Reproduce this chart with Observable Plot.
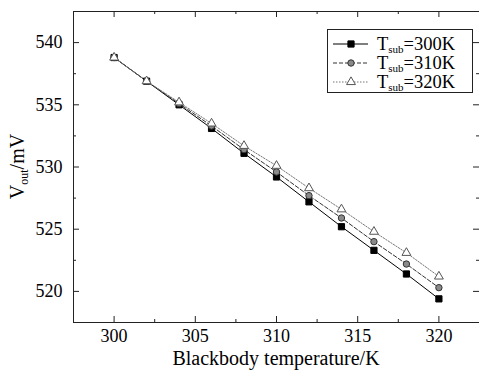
<!DOCTYPE html>
<html><head><meta charset="utf-8">
<script src="https://cdn.jsdelivr.net/npm/d3@7"></script>
<script src="https://cdn.jsdelivr.net/npm/@observablehq/plot@0.6"></script>
<style>
body{margin:0;background:#fff}
#wrap{position:relative;width:479px;height:372px}
</style>
</head><body><div id="wrap"></div>
<script>
const temps = [300, 302, 304, 306, 308, 310, 312, 314, 316, 318, 320];
const v300 = [538.8, 536.9, 535.0, 533.1, 531.1, 529.2, 527.2, 525.2, 523.3, 521.4, 519.4];
const v310 = [538.8, 536.9, 535.1, 533.3, 531.4, 529.6, 527.7, 525.9, 524.0, 522.2, 520.3];
const v320 = [538.8, 536.9, 535.2, 533.5, 531.7, 530.1, 528.3, 526.6, 524.8, 523.1, 521.2];
const seriesNames = ["300K", "310K", "320K"];
const xTicks = [300, 305, 310, 315, 320];
const xMinor = [302.5, 307.5, 312.5, 317.5];
const yTicks = [520, 525, 530, 535, 540];
const yMinor = [522.5, 527.5, 532.5, 537.5];
const xDomain = [297.5, 322.5];
const yDomain = [517.5, 542.5];

const styles = [
  {stroke: "#000", dash: null, symbol: "square", fill: "#000", dotStroke: "#000", r: 3.5},
  {stroke: "#333", dash: "4,2", symbol: "circle", fill: "#8a8a8a", dotStroke: "#333", r: 3.2},
  {stroke: "#777", dash: "1.5,1.5", symbol: "triangle", fill: "#fff", dotStroke: "#555", r: 3.3}
];
const values = [v300, v310, v320];
const rows = [];
values.forEach((vs, i) => vs.forEach((v, j) => rows.push({series: seriesNames[i], idx: i, t: temps[j], v})));

const W = 479, H = 372, mL = 73, mT = 11, mR = 0, mB = 50;
const pw = W - mL - mR, ph = H - mT - mB;
const font = "Liberation Serif, Times New Roman, serif";

const marks = [
  Plot.frame({stroke: "#222", strokeWidth: 1}),
  Plot.tickX(xTicks, {x: d => d, insetTop: ph - 6, stroke: "#222"}),
  Plot.tickX(xTicks, {x: d => d, insetBottom: ph - 6, stroke: "#222"}),
  Plot.tickX(xMinor, {x: d => d, insetTop: ph - 3, stroke: "#222"}),
  Plot.tickX(xMinor, {x: d => d, insetBottom: ph - 3, stroke: "#222"}),
  Plot.tickY(yTicks, {y: d => d, insetRight: pw - 6, stroke: "#222"}),
  Plot.tickY(yTicks, {y: d => d, insetLeft: pw - 6, stroke: "#222"}),
  Plot.tickY(yMinor, {y: d => d, insetRight: pw - 3, stroke: "#222"}),
  Plot.tickY(yMinor, {y: d => d, insetLeft: pw - 3, stroke: "#222"}),
  Plot.axisX({ticks: xTicks, tickSize: 0, tickPadding: 7, label: null, fontSize: 18}),
  Plot.axisY({ticks: yTicks, tickSize: 0, tickPadding: 11, label: null, fontSize: 18})
];
styles.forEach((s, i) => {
  const data = rows.filter(r => r.idx === i);
  marks.push(Plot.line(data, {x: "t", y: "v", stroke: s.stroke, strokeWidth: 1, strokeDasharray: s.dash}));
});
styles.forEach((s, i) => {
  const data = rows.filter(r => r.idx === i);
  marks.push(Plot.dot(data, {x: "t", y: "v", symbol: () => s.symbol, r: s.r, fill: s.fill, stroke: s.dotStroke, strokeWidth: 1}));
});

const plot = Plot.plot({
  width: W, height: H, marginLeft: mL, marginTop: mT, marginRight: mR, marginBottom: mB,
  style: {fontFamily: font, fontSize: "18px", color: "#000", background: "#fff"},
  x: {domain: xDomain}, y: {domain: yDomain},
  marks
});
document.getElementById("wrap").appendChild(plot);

const svg = d3.select(plot);
svg.append("text").attr("x", mL + pw / 2).attr("y", 365)
  .attr("text-anchor", "middle").attr("font-family", font).attr("font-size", 20).attr("fill", "#000")
  .text("Blackbody temperature/K");
const yl = svg.append("text").attr("transform", `translate(24,${mT + ph / 2}) rotate(-90)`)
  .attr("text-anchor", "middle").attr("font-family", font).attr("font-size", 20).attr("fill", "#000");
yl.append("tspan").text("V");
yl.append("tspan").attr("font-size", 12).attr("dy", 4).text("out");
yl.append("tspan").attr("dy", -4).text("/mV");

const lg = svg.append("g");
lg.append("rect").attr("x", 327.5).attr("y", 29.5).attr("width", 145).attr("height", 63)
  .attr("fill", "#fff").attr("stroke", "#222").attr("stroke-width", 1);
const symGen = {square: d3.symbolSquare, circle: d3.symbolCircle, triangle: d3.symbolTriangle};
styles.forEach((s, i) => {
  const cy = 44 + i * 19;
  lg.append("line").attr("x1", 333).attr("x2", 368).attr("y1", cy).attr("y2", cy)
    .attr("stroke", s.stroke).attr("stroke-dasharray", s.dash);
  const area = Math.PI * s.r * s.r;
  lg.append("path").attr("d", d3.symbol(symGen[s.symbol], area)())
    .attr("transform", `translate(351,${cy})`).attr("fill", s.fill).attr("stroke", s.dotStroke);
  const t = lg.append("text").attr("x", 377).attr("y", cy + 6).attr("text-anchor", "start")
    .attr("font-family", font).attr("font-size", 18.5).attr("fill", "#000");
  t.append("tspan").text("T");
  t.append("tspan").attr("font-size", 11).attr("dy", 3).text("sub");
  t.append("tspan").attr("dy", -3).text("=" + seriesNames[i]);
});
</script></body></html>
